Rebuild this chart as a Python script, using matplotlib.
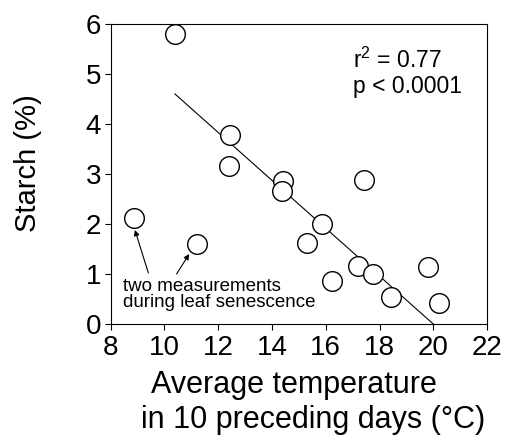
import matplotlib
matplotlib.use("Agg")
import matplotlib.pyplot as plt

plt.rcParams["font.family"] = ["Liberation Sans", "DejaVu Sans"]
plt.rcParams["mathtext.default"] = "regular"

# datos
temp = [10.39, 12.44, 12.39, 14.42, 14.36, 17.43, 8.87, 11.20, 15.86,
        15.31, 16.25, 17.21, 17.74, 18.41, 19.80, 20.21]
starch = [5.79, 3.77, 3.16, 2.85, 2.65, 2.88, 2.12, 1.60, 2.00,
          1.62, 0.86, 1.17, 1.01, 0.54, 1.15, 0.43]

# recta de regresion
intercept = 9.574
slope = -0.4787
fit_x = [10.39, 20.0]

xticks = [8, 10, 12, 14, 16, 18, 20, 22]
yticks = [0, 1, 2, 3, 4, 5, 6]

fig = plt.figure(figsize=(5.07, 4.41), dpi=100)
ax = fig.add_axes([0.2184, 0.2653, 0.7422, 0.6803])

fit_y = [intercept + slope * x for x in fit_x]
ax.plot(fit_x, fit_y, color="black", lw=0.8, zorder=1)
ax.scatter(temp, starch, s=200, facecolors="white", edgecolors="black",
           linewidths=1.0, zorder=2)

ax.set_xlim(8, 22)
ax.set_ylim(0, 6)
ax.set_xticks(xticks)
ax.set_yticks(yticks)
ax.tick_params(direction="out", length=4, width=0.8, labelsize=20)
ax.tick_params(axis="x", pad=4)
ax.tick_params(axis="y", pad=3)
for s in ax.spines.values():
    s.set_linewidth(0.8)

# etiquetas de los ejes
fig.text(0.580, 0.1088, "Average temperature", fontsize=22, ha="center",
         va="baseline")
fig.text(0.617, 0.0295, "in 10 preceding days (°C)", fontsize=22,
         ha="center", va="baseline")
ax.set_ylabel("Starch (%)", fontsize=21)
ax.yaxis.set_label_coords(-0.183, 0.537)

ax.text(0.644, 0.853, "r$^{2}$ = 0.77", transform=ax.transAxes, fontsize=16.5,
        va="baseline", ha="left")
ax.text(0.644, 0.77, "p < 0.0001", transform=ax.transAxes, fontsize=16.5,
        va="baseline", ha="left")

# flechas hacia las dos medidas de senescencia
ax.text(8.47, 0.666, "two measurements", fontsize=13.5, va="baseline",
        ha="left")
ax.text(8.47, 0.34, "during leaf senescence", fontsize=13.5, va="baseline",
        ha="left")
ax.annotate("", xy=(8.90, 1.88), xytext=(9.40, 1.02),
            arrowprops=dict(arrowstyle="-|>", color="black", lw=0.8,
                            mutation_scale=8, shrinkA=0, shrinkB=0))
ax.annotate("", xy=(10.92, 1.40), xytext=(10.45, 1.0),
            arrowprops=dict(arrowstyle="-|>", color="black", lw=0.8,
                            mutation_scale=8, shrinkA=0, shrinkB=0))

fig.savefig("out.png", dpi=100)
